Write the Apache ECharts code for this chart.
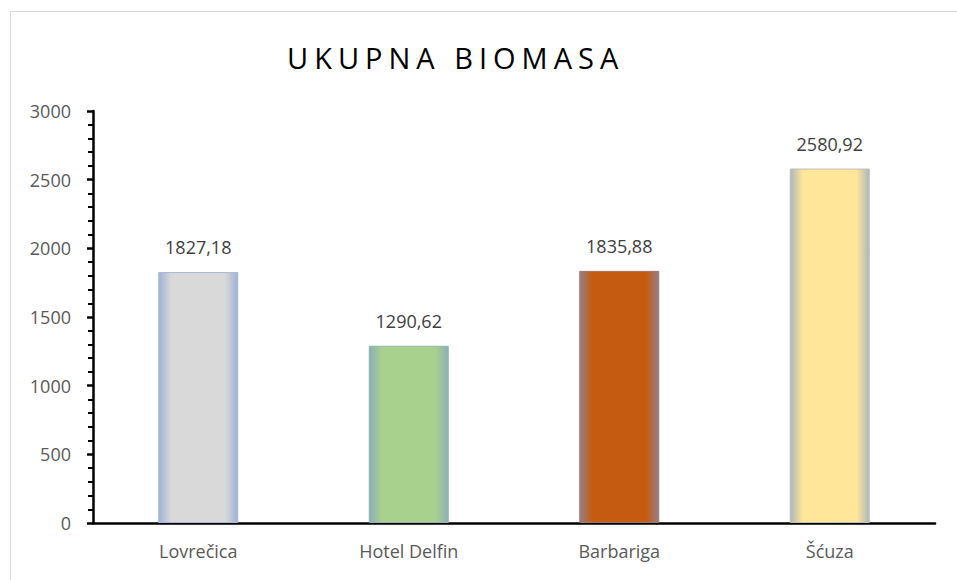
<!DOCTYPE html>
<html>
<head>
<meta charset="utf-8">
<script src="https://cdn.jsdelivr.net/npm/echarts@6/dist/echarts.min.js"></script>
<style>
  html, body { margin: 0; padding: 0; background: #fff; overflow: hidden; }
  #frame {
    position: absolute; left: 10px; top: 11px;
    width: 1000px; height: 620px;
    border: 1px solid #d9d9d9;
  }
  #chart { position: absolute; left: 0; top: 0; width: 957px; height: 580px; }
</style>
</head>
<body>
<div id="frame"></div>
<div id="chart"></div>
<script>
// podaci
const categories = ["Lovrečica", "Hotel Delfin", "Barbariga", "Šćuza"];
const values = [1827.18, 1290.62, 1835.88, 2580.92];
const barColors = ["#d9d9d9", "#a9d18e", "#c55a11", "#ffe699"];
const yTicks = [0, 500, 1000, 1500, 2000, 2500, 3000];
const titleText = "UKUPNA BIOMASA";

// rub stupca s plavkastim sjajem
function mix(a, b, t) {
  const pa = parseInt(a.slice(1), 16), pb = parseInt(b.slice(1), 16);
  const r = Math.round(((pa >> 16) & 255) * (1 - t) + ((pb >> 16) & 255) * t);
  const g = Math.round(((pa >> 8) & 255) * (1 - t) + ((pb >> 8) & 255) * t);
  const bl = Math.round((pa & 255) * (1 - t) + (pb & 255) * t);
  return "rgb(" + r + "," + g + "," + bl + ")";
}
function glow(c) {
  const edge = mix(c, "#7896d4", 0.6);
  return new echarts.graphic.LinearGradient(0, 0, 1, 0, [
    { offset: 0, color: edge },
    { offset: 0.16, color: c },
    { offset: 0.84, color: c },
    { offset: 1, color: edge },
  ]);
}

const myChart = echarts.init(document.getElementById("chart"), null, { renderer: "svg" });
myChart.setOption({
  animation: false,
  title: {
    text: titleText,
    left: 282,
    top: 38,
    textStyle: {
      fontFamily: "Open Sans",
      fontSize: 29,
      fontWeight: "normal",
      color: "#000",
    },
  },
  grid: { left: 93, right: 22, top: 111, bottom: 57 },
  xAxis: {
    type: "category",
    data: categories,
    axisLine: { lineStyle: { color: "#000", width: 2.5 } },
    axisTick: { show: false },
    axisLabel: {
      color: "#595959",
      fontFamily: "Open Sans",
      fontSize: 18,
      margin: 19,
    },
  },
  yAxis: {
    type: "value",
    min: yTicks[0],
    max: yTicks[yTicks.length - 1],
    interval: 500,
    axisLine: { show: true, lineStyle: { color: "#000", width: 2.5 } },
    axisTick: { show: true, length: 6, lineStyle: { color: "#000", width: 2.5 } },
    minorTick: { show: true, splitNumber: 5, length: 5, lineStyle: { color: "#000", width: 2 } },
    splitLine: { show: false },
    axisLabel: {
      color: "#595959",
      fontFamily: "Open Sans",
      fontSize: 18,
      margin: 22,
      formatter: (v) => String(v),
    },
  },
  series: [
    {
      type: "bar",
      barWidth: 80,
      data: values.map((v, i) => ({
        value: v,
        itemStyle: { color: glow(barColors[i]), borderColor: mix(barColors[i], "#7896d4", 0.5), borderWidth: 1 },
      })),
      label: {
        show: true,
        position: "top",
        distance: 16,
        color: "#404040",
        fontFamily: "Open Sans",
        fontSize: 18,
        formatter: (p) => p.value.toFixed(2).replace(".", ","),
      },
    },
  ],
});

// razmak slova u naslovu
document.querySelectorAll("#chart svg text").forEach((t) => {
  if (t.textContent === titleText) t.setAttribute("letter-spacing", "6");
});
</script>
</body>
</html>
